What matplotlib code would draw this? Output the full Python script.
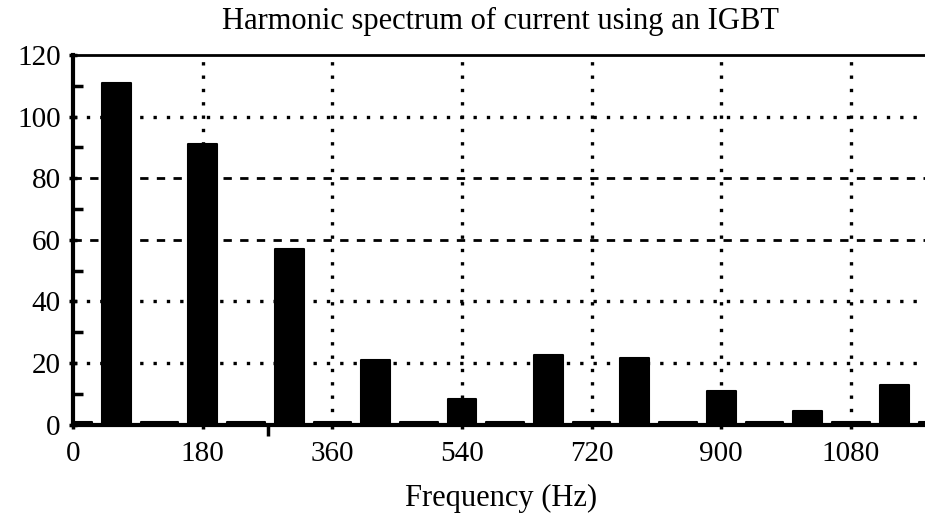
import matplotlib.pyplot as plt
import numpy as np

# odd harmonics of 60 Hz (main bars)
odd_freqs = [60, 180, 300, 420, 540, 660, 780, 900, 1020, 1140]
odd_amps = [111, 91, 57, 21, 8.5, 22.5, 21.5, 11, 4.5, 13]

# even harmonics (near zero)
even_freqs = [0, 120, 240, 360, 480, 600, 720, 840, 960, 1080, 1200]
even_amps = [0.8, 0.8, 0.8, 0.8, 0.8, 0.8, 0.8, 0.8, 0.8, 0.8, 0.8]

xticks = [0, 180, 360, 540, 720, 900, 1080]
yticks = [0, 20, 40, 60, 80, 100, 120]

plt.rcParams['font.family'] = 'Liberation Serif'

fig = plt.figure(figsize=(9.25, 5.18), dpi=100)
ax = fig.add_axes([0.079, 0.18, 0.925, 0.714])

ax.bar(even_freqs, even_amps, width=52, color='black', edgecolor='black',
       linewidth=1.5, joinstyle='round', zorder=3)
ax.bar(odd_freqs, odd_amps, width=40, color='black', edgecolor='black',
       linewidth=1.5, joinstyle='round', zorder=3)

# grid lines
for y in [20, 40, 100]:
    ax.axhline(y, color='black', linestyle=(0, (1, 3)), linewidth=2.4, zorder=1)
for y in [60, 80]:
    ax.axhline(y, color='black', linestyle=(0, (3, 3)), linewidth=2, zorder=1)
for x in xticks[1:]:
    ax.axvline(x, color='black', linestyle=(0, (1, 3)), linewidth=2.4, zorder=1)

ax.set_xlim(0, 1188)
ax.set_ylim(0, 120)
ax.set_xticks(xticks)
ax.set_yticks(yticks)
ax.set_xticks([270], minor=True)
ax.set_yticks(np.arange(10, 120, 20), minor=True)
ax.tick_params(axis='both', which='major', labelsize=21, width=2.5, length=6,
               direction='inout', color='black')
ax.tick_params(axis='y', which='minor', direction='in', length=7, width=2.5)
ax.tick_params(axis='x', which='minor', direction='out', length=8, width=2.5)
ax.tick_params(axis='x', pad=9)
ax.tick_params(axis='y', pad=6)

ax.spines['right'].set_visible(False)
ax.spines['left'].set_linewidth(3)
ax.spines['bottom'].set_linewidth(3)
ax.spines['top'].set_linewidth(2)

ax.set_xlabel('Frequency (Hz)', fontsize=22, labelpad=12)
ax.set_title('Harmonic spectrum of current using an IGBT', fontsize=22, pad=19)

fig.savefig('out.png', dpi=100)
